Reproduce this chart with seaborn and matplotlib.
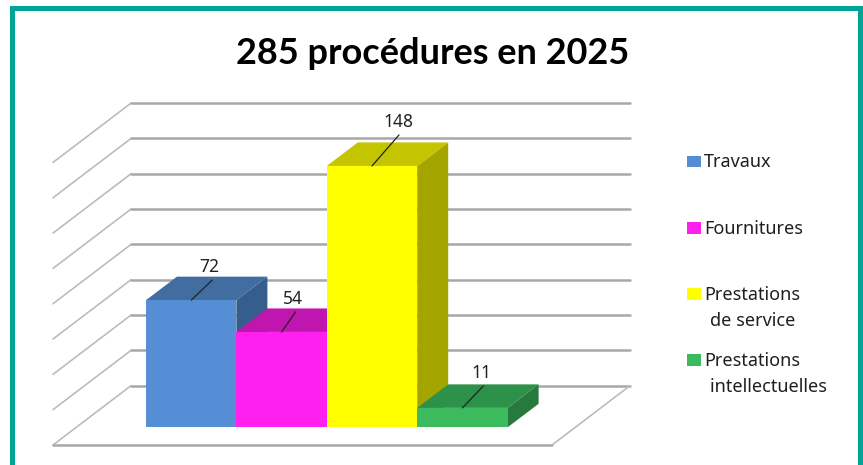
import numpy as np
import pandas as pd
import seaborn as sns
import matplotlib.pyplot as plt
from matplotlib.patches import Rectangle

# Data
categories = ['Travaux', 'Fournitures', 'Prestations de service', 'Prestations intellectuelles']
values = [72, 54, 148, 11]
legend_labels = ['Travaux', 'Fournitures', 'Prestations\n\u2004de service', 'Prestations\n\u2004intellectuelles']
grid_ticks = [0, 20, 40, 60, 80, 100, 120, 140, 160]
title = '285 procédures en 2025'

front_colors = ['#558ed5', '#ff1fee', '#ffff00', '#3cbb5e']
top_colors = ['#416da1', '#c015ae', '#c4c400', '#2e914a']
side_colors = ['#355e8c', '#a8109a', '#a5a500', '#277a3e']

W, H = 863, 465
sns.set_theme(style='white')
plt.rcParams['font.family'] = ['Noto Sans', 'DejaVu Sans']

fig = plt.figure(figsize=(W / 100, H / 100), dpi=100)
ax = fig.add_axes([0, 0, 1, 1])

df = pd.DataFrame({'categorie': categories, 'valeur': values})
sns.barplot(data=df, x='categorie', y='valeur', hue='categorie', palette=front_colors,
            width=1, saturation=1, legend=False, linewidth=0, ax=ax)

# scale : pixels of the picture <-> data
px_x = 90.4
px_y = 1.766
x0, y0 = 146, 427.3
ax.set_xlim(-0.5 - x0 / px_x, -0.5 + (W - x0) / px_x)
ax.set_ylim((y0 - H) / px_y, y0 / px_y)
ax.axis('off')

# depth of bars and of the floor
bar_dx, bar_dy = 31 / px_x, 23.5 / px_y
back_y = (y0 - 385.7) / px_y
front_y = (y0 - 445) / px_y
left_front, left_back = -0.5 + (53 - x0) / px_x, -0.5 + (131 - x0) / px_x
right_front, right_back = -0.5 + (552 - x0) / px_x, -0.5 + (630 - x0) / px_x

# walls
for v in grid_ticks:
    ax.plot([left_front, left_back], [front_y + v, back_y + v], color='#bcbcbc', lw=1.2, zorder=1)
    ax.plot([left_back, right_back], [back_y + v, back_y + v], color='#a8a8a8', lw=1.8, zorder=1)
ax.plot([left_front, right_front], [front_y, front_y], color='#a8a8a8', lw=1.8, zorder=1)
ax.plot([right_front, right_back], [front_y, back_y], color='#bcbcbc', lw=1.2, zorder=1)

# bars : faces are built from what seaborn drew
for i, bar in enumerate(ax.patches):
    left, right, h = bar.get_x(), bar.get_x() + bar.get_width(), bar.get_height()
    bar.set_zorder(4 + i * 3)
    ax.fill([left, left + bar_dx, right + bar_dx, right], [h, h + bar_dy, h + bar_dy, h],
            color=top_colors[i], lw=0, zorder=3 + i * 3)
    ax.fill([right, right + bar_dx, right + bar_dx, right], [h, h + bar_dy, bar_dy, 0],
            color=side_colors[i], lw=0, zorder=2 + i * 3)

# value labels with their leader lines
leader_dx = [21, 14, 27, 21]
leader_dy = [20, 20, 31, 22]
label_dx = [18, 11, 26, 19]
for i, v in enumerate(values):
    ax.plot([i, i + leader_dx[i] / px_x], [v, v + leader_dy[i] / px_y],
            color='#222222', lw=0.9, zorder=30)
    ax.text(i + label_dx[i] / px_x, v + (leader_dy[i] + 4) / px_y, str(v), ha='center', va='bottom',
            fontsize=12.5, color='#222222', zorder=30)


def fx(x):
    return x / W


def fy(y):
    return 1 - y / H


# legend
legend_y = [161.5, 228, 294, 360]
for label, color, y in zip(legend_labels, front_colors, legend_y):
    fig.add_artist(Rectangle((fx(687), fy(y + 5.7)), 13.5 / W, 11.5 / H, color=color, lw=0,
                             transform=fig.transFigure))
    fig.text(fx(704), fy(y - 8.5), label, ha='left', va='top', fontsize=13, color='#1f1f1f',
             linespacing=1.58)

fig.text(fx(433), fy(53), title, ha='center', va='center', fontsize=26, fontweight='bold',
         family=['Lato', 'DejaVu Sans'], color='black')

# teal frame, open at the bottom edge
fig.add_artist(Rectangle((fx(11.5), fy(480)), (859.5 - 11.5) / W, (480 - 8.5) / H, fill=False,
                         edgecolor='#00a598', lw=3.6, transform=fig.transFigure))

fig.savefig('out.png', dpi=100)
